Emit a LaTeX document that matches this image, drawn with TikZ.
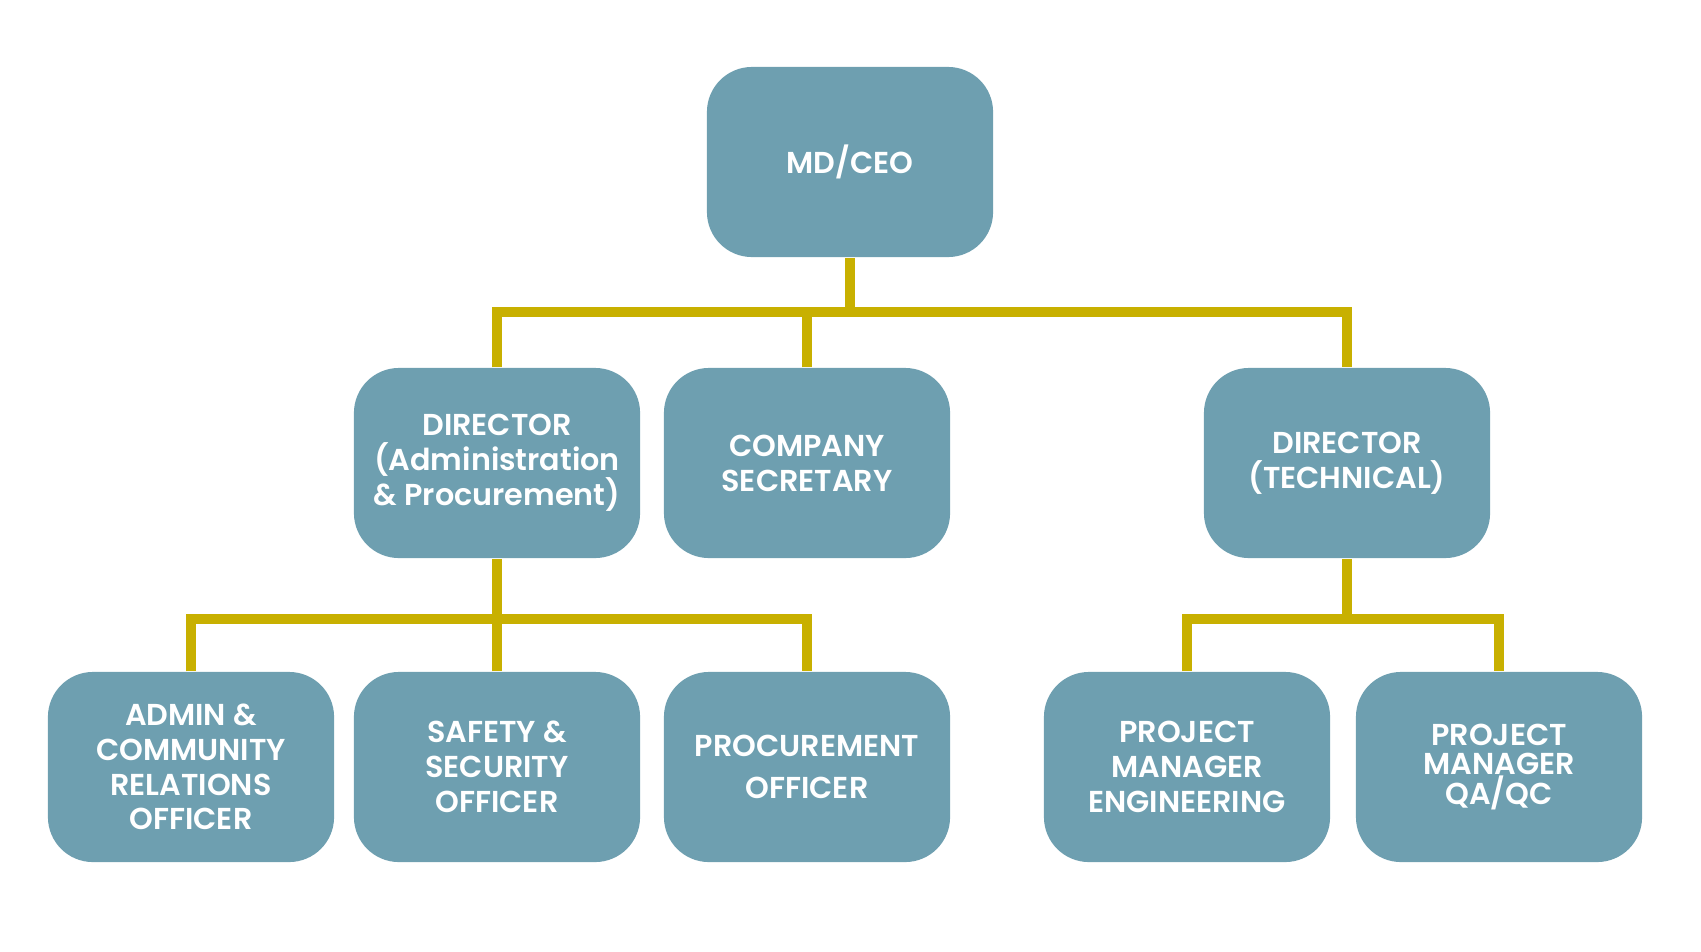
\documentclass[tikz,border=0pt]{standalone}
\usepackage{fontspec}
\setmainfont{Poppins}[BoldFont={Poppins SemiBold}]
\usepackage{xcolor}
\usepackage{tikz}
\usetikzlibrary{positioning, calc}
\definecolor{roleblue}{HTML}{6E9FB0}
\definecolor{linkgold}{HTML}{C8B000}
\tikzset{orgchart/.style={
    x=0.01cm, y=-0.01cm,
    role/.style={rectangle, rounded corners=0.45cm, fill=roleblue, minimum width=2.86cm, minimum height=1.9cm, inner sep=0pt, align=center, text=white, font=\fontsize{8.6}{9.9}\selectfont\bfseries},
    link/.style={linkgold, line width=2.8pt, line join=miter},
}}

\begin{document}
\begin{tikzpicture}[orgchart]
    \useasboundingbox (0,0) rectangle (1701,951);
    % top
    \node[role] (ceo) at (850,162) {MD/CEO};
    % directors
    \node[role] (dirA) at (497,463) {DIRECTOR\\(Administration\\\& Procurement)};
    \node[role] (sec) at (807,463) {COMPANY\\SECRETARY};
    \node[role] (dirT) at (1347,463) {DIRECTOR\\(TECHNICAL)};
    % officers
    \node[role] (admin) at (191,767) {ADMIN \&\\COMMUNITY\\RELATIONS\\OFFICER};
    \node[role] (safety) at (497,767) {SAFETY \&\\SECURITY\\OFFICER};
    \node[role, font=\fontsize{8.6}{12}\selectfont\bfseries] (proc) at (807,767) {PROCUREMENT\\OFFICER};
    \node[role] (pmeng) at (1187,767) {PROJECT\\MANAGER\\ENGINEERING};
    \node[role, font=\fontsize{8.6}{8.3}\selectfont\bfseries] (pmqa) at (1499,767) {PROJECT\\MANAGER\\QA/QC};
    % buses
    \coordinate (busTop) at (850,312);
    \coordinate (busA) at (497,619);
    \coordinate (busT) at (1347,619);
    % connectors
    \draw[link] (ceo.south) -- (busTop);
    \draw[link] (dirA.north) |- (busTop) -| (dirT.north);
    \draw[link] (sec.north) -- (sec.north |- busTop);
    \draw[link] (dirA.south) -- (busA);
    \draw[link] (admin.north) |- (busA) -| (proc.north);
    \draw[link] (safety.north) -- (safety.north |- busA);
    \draw[link] (dirT.south) -- (busT);
    \draw[link] (pmeng.north) |- (busT) -| (pmqa.north);
\end{tikzpicture}
\end{document}
